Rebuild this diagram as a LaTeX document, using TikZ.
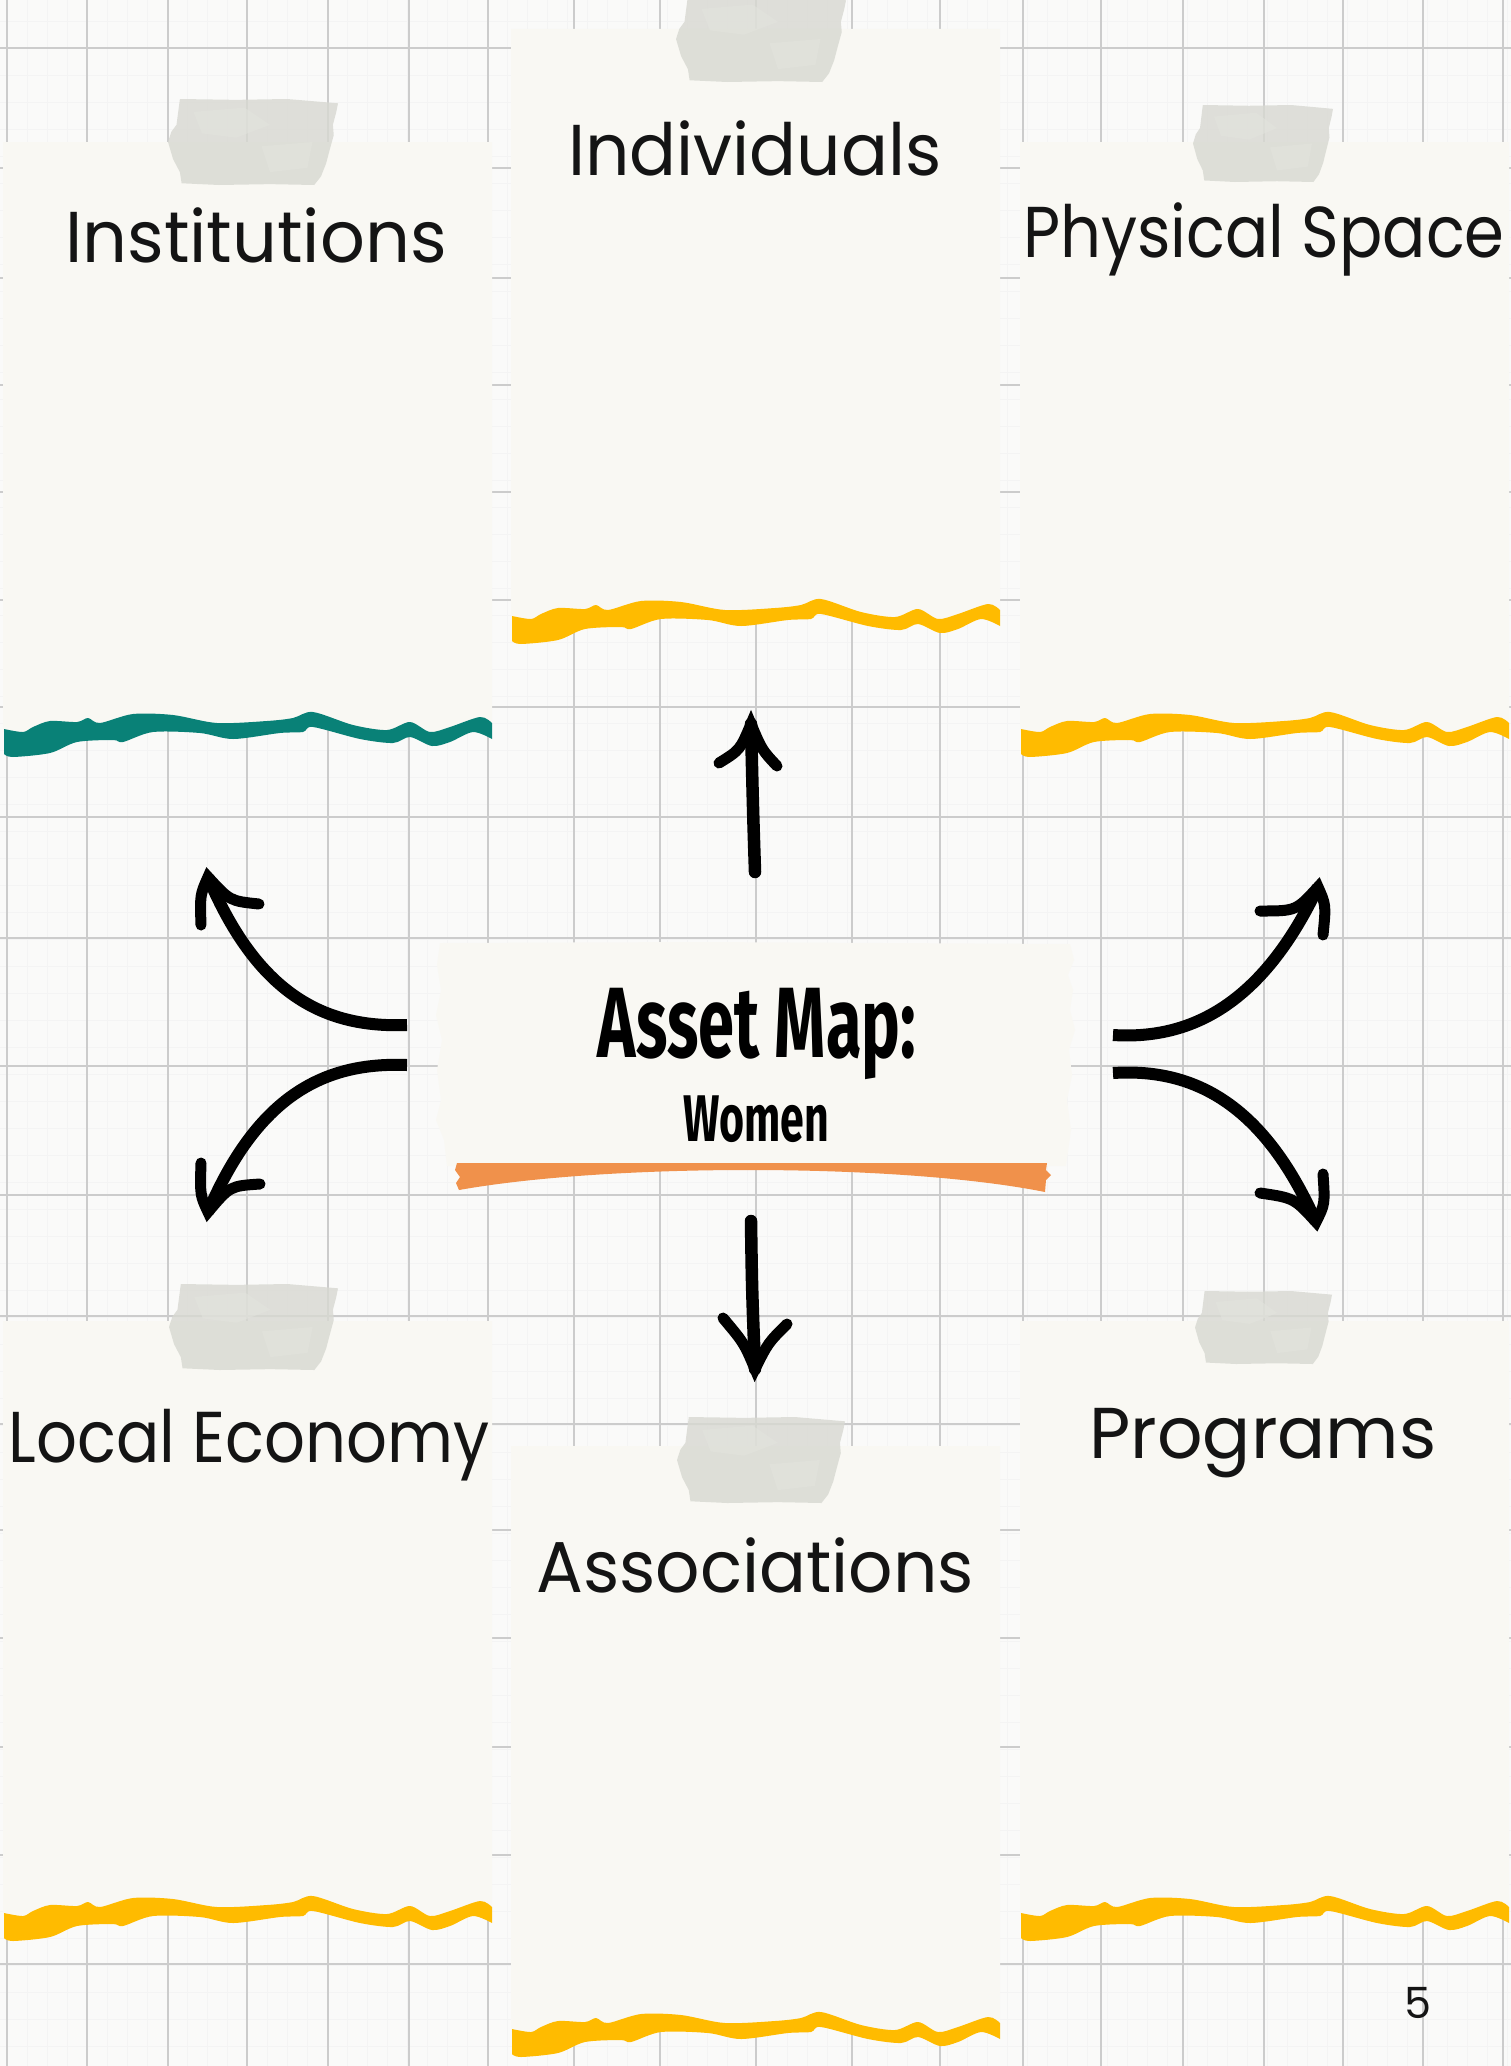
\documentclass[tikz,border=0pt]{standalone}
\usepackage{fontspec}
\usepackage{graphicx}
\newfontfamily\labelfont{Poppins}
\newfontfamily\titlefont{Fira Sans}
\definecolor{bgc}{RGB}{250,250,249}
\definecolor{gridc}{RGB}{204,204,204}
\definecolor{gridm}{RGB}{244,244,244}
\definecolor{cream}{RGB}{249,248,243}
\definecolor{tealc}{RGB}{9,129,119}
\definecolor{yellowc}{RGB}{255,187,0}
\definecolor{orangec}{RGB}{240,145,75}
\definecolor{tapec}{RGB}{216,217,210}
\definecolor{tapel}{RGB}{226,227,221}
\tikzset{
  gridline/.style={draw=gridc, line width=1.6pt},
  gridminor/.style={draw=gridm, line width=0.7pt},
  labelt/.style={font=\labelfont\fontsize{72}{84}\selectfont, anchor=base, inner sep=0pt, text=black!92},
  pagenum/.style={font=\labelfont\fontsize{43}{50}\selectfont, anchor=base, inner sep=0pt, text=black!92},
  titlet/.style={font=\titlefont\bfseries, anchor=base, inner sep=0pt, text=black},
  brush/.style={draw=black, line width=12.5pt, line cap=round},
  brushflat/.style={draw=black, line width=12pt, line cap=butt},
  barb/.style={draw=black, line width=11pt, line cap=round},
  tapefill/.style={fill=tapec, fill opacity=0.82},
  tapespot/.style={fill=tapel, fill opacity=0.6}
}
\newcommand\lbl[2]{\scalebox{#1}[1]{#2}}
\newcommand\mypanel[4]{%
\begin{scope}[shift={(#1,#3)}]
\fill[cream] (0,{#2-#3}) -- (489,{#2-#3}) -- (489,6) -- plot[smooth] coordinates {(489,6)(477,0)(447,10)(427,15)(407,5)(384,13)(350,8)(310,-5)(290,1)(264,4)(214,6)(170,-2)(130,-3)(97,6)(85,1)(74,5)(47,4)(30,10)(20,15)(1,12)} -- (0,12) -- cycle;
\fill[#4] plot[smooth] coordinates {(1,9)(20,12)(30,7)(47,1)(74,2)(85,-2)(97,3)(130,-6)(170,-5)(214,3)(264,1)(290,-2)(310,-8)(350,5)(384,10)(407,2)(427,12)(447,7)(477,-3)(489,3)} -- (489,19) -- plot[smooth] coordinates {(489,19)(470,12)(447,22)(429,26)(407,17)(390,23)(357,19)(310,7)(300,12)(277,13)(230,19)(197,13)(150,12)(120,22)(110,20)(74,22)(47,33)(10,37)(1,34)} -- cycle;
\end{scope}}
\newcommand\mytape[4]{%
\begin{scope}[shift={(#1,#2)}, xscale=#3, yscale=#4]
\fill[tapefill] (0.07,0) -- (0.4,0.01) -- (0.7,0) -- (1.0,0.05) -- (0.99,0.15) -- (0.97,0.3) -- (0.975,0.42) -- (0.95,0.6) -- (0.93,0.75) -- (0.9,0.9) -- (0.86,1.0) -- (0.6,0.99) -- (0.3,1.0) -- (0.08,0.98) -- (0.07,0.85) -- (0.03,0.7) -- (0,0.5) -- (0.02,0.38) -- (0.05,0.3) -- (0.06,0.15) -- cycle;
\fill[tapespot] (0.15,0.15) -- (0.45,0.1) -- (0.6,0.3) -- (0.4,0.45) -- (0.2,0.4) -- cycle;
\fill[tapespot] (0.55,0.55) -- (0.85,0.5) -- (0.82,0.8) -- (0.6,0.85) -- cycle;
\end{scope}}
\begin{document}
\begin{tikzpicture}[x=1pt,y=-1pt]
\useasboundingbox (0,0) rectangle (1511,2066);
\clip (0,0) rectangle (1511,2066);
\fill[bgc] (0,0) rectangle (1511,2066);
% minor grid
\foreach \x in {7,27,...,1511} \draw[gridminor] (\x,0) -- (\x,2066);
\foreach \y in {21,48,...,2066} \draw[gridminor] (0,\y) -- (1511,\y);
% major grid
\foreach \x in {7,87,168,247,328,409,488,574,660,756,852,940,1023,1101,1183,1264,1343,1423,1503}
  \draw[gridline] (\x,0) -- (\x,2066);
\foreach \y in {48,168,278,385,492,600,707,817,938,1066,1195,1316,1424,1530,1638,1747,1855,1964}
  \draw[gridline] (0,\y) -- (1511,\y);
% panels
\mypanel{3}{142}{720}{tealc}
\mypanel{511}{29}{607}{yellowc}
\mypanel{1020}{142}{720}{yellowc}
\mypanel{3}{1321}{1904}{yellowc}
\mypanel{511}{1446}{2020}{yellowc}
\mypanel{1020}{1321}{1904}{yellowc}
% tapes
\mytape{168}{99}{170}{86}
\mytape{676}{-4}{170}{86}
\mytape{1193}{105}{140}{77}
\mytape{169}{1284}{169}{86}
\mytape{677}{1417}{168}{86}
\mytape{1195}{1291}{137}{73}
% labels
\node[labelt] (inst) at (256,262) {\lbl{0.975}{Institutions}};
\node[labelt] (indiv) at (755,175) {\lbl{0.965}{Individuals}};
\node[labelt] (phys) at (1264,257) {\lbl{0.89}{Physical Space}};
\node[labelt] (local) at (249,1462) {\lbl{0.89}{Local Economy}};
\node[labelt] (prog) at (1263,1458) {\lbl{0.99}{Programs}};
\node[labelt] (assoc) at (755,1592) {\lbl{0.965}{Associations}};
\node[pagenum] (pg) at (1418,2018) {5};
% center box
\fill[cream] (440,943) -- (700,942) -- (1070,944) -- (1074,960) -- (1068,975) -- (1073,990) -- (1070,1010) -- (1075,1030) -- (1069,1050) -- (1072,1075) -- (1067,1100) -- (1071,1130) -- (1066,1166) -- (447,1166) -- (444,1140) -- (436,1120) -- (441,1100) -- (437,1070) -- (442,1040) -- (436,1015) -- (441,990) -- (437,965) -- cycle;
\fill[orangec] (457,1163) -- (1047,1163) -- (1046,1170) -- (1051,1175) -- (1046,1180) -- (1045,1192) .. controls (900,1163) and (610,1163) .. (459,1190) -- (456,1183) -- (460,1177) -- (455,1170) -- cycle;
\node[titlet] (title) at (757,1057) {\scalebox{0.65}[1]{\fontsize{100}{110}\selectfont Asset Map:}};
\node[titlet] (sub) at (756,1141) {\scalebox{0.65}[1]{\fontsize{66}{72}\selectfont Women}};
% arrow coordinates
\coordinate (up-tail) at (755,872);
\coordinate (up-tip) at (751,724);
\coordinate (up-b1) at (719,763);
\coordinate (up-b2) at (777,766);
\coordinate (dn-tail) at (751,1221);
\coordinate (dn-tip) at (755,1369);
\coordinate (dn-b1) at (723,1318);
\coordinate (dn-b2) at (787,1324);
\coordinate (ul-tail) at (407,1025);
\coordinate (ul-tip) at (208,877);
\coordinate (ul-b1) at (201,925);
\coordinate (ul-b2) at (259,904);
\coordinate (ll-tail) at (407,1065);
\coordinate (ll-tip) at (208,1212);
\coordinate (ll-b1) at (201,1163);
\coordinate (ll-b2) at (260,1184);
\coordinate (ur-tail) at (1113,1035);
\coordinate (ur-tip) at (1318,887);
\coordinate (ur-b1) at (1260,911);
\coordinate (ur-b2) at (1323,935);
\coordinate (lr-tail) at (1113,1073);
\coordinate (lr-tip) at (1316,1222);
\coordinate (lr-b1) at (1260,1193);
\coordinate (lr-b2) at (1323,1174);
% arrows
\draw[brush] (up-tail) .. controls (753,810) .. (up-tip);
\draw[barb] (up-b1) .. controls (740,750) .. (up-tip) .. controls (762,750) .. (up-b2);
\draw[brush] (dn-tail) .. controls (752,1290) .. (dn-tip);
\draw[barb] (dn-b1) .. controls (744,1343) .. (dn-tip) .. controls (768,1343) .. (dn-b2);
\draw[brushflat] (ul-tail) .. controls (330,1028) and (260,1000) .. (ul-tip);
\draw[barb] (ul-b1) .. controls (200,895) .. (ul-tip) .. controls (230,901) .. (ul-b2);
\draw[brushflat] (ll-tail) .. controls (330,1062) and (260,1090) .. (ll-tip);
\draw[barb] (ll-b1) .. controls (200,1195) .. (ll-tip) .. controls (230,1186) .. (ll-b2);
\draw[brushflat] (ur-tail) .. controls (1190,1040) and (1262,1005) .. (ur-tip);
\draw[barb] (ur-b1) .. controls (1296,911) .. (ur-tip) .. controls (1326,905) .. (ur-b2);
\draw[brushflat] (lr-tail) .. controls (1190,1068) and (1262,1100) .. (lr-tip);
\draw[barb] (lr-b1) .. controls (1294,1198) .. (lr-tip) .. controls (1325,1204) .. (lr-b2);
\end{tikzpicture}
\end{document}
